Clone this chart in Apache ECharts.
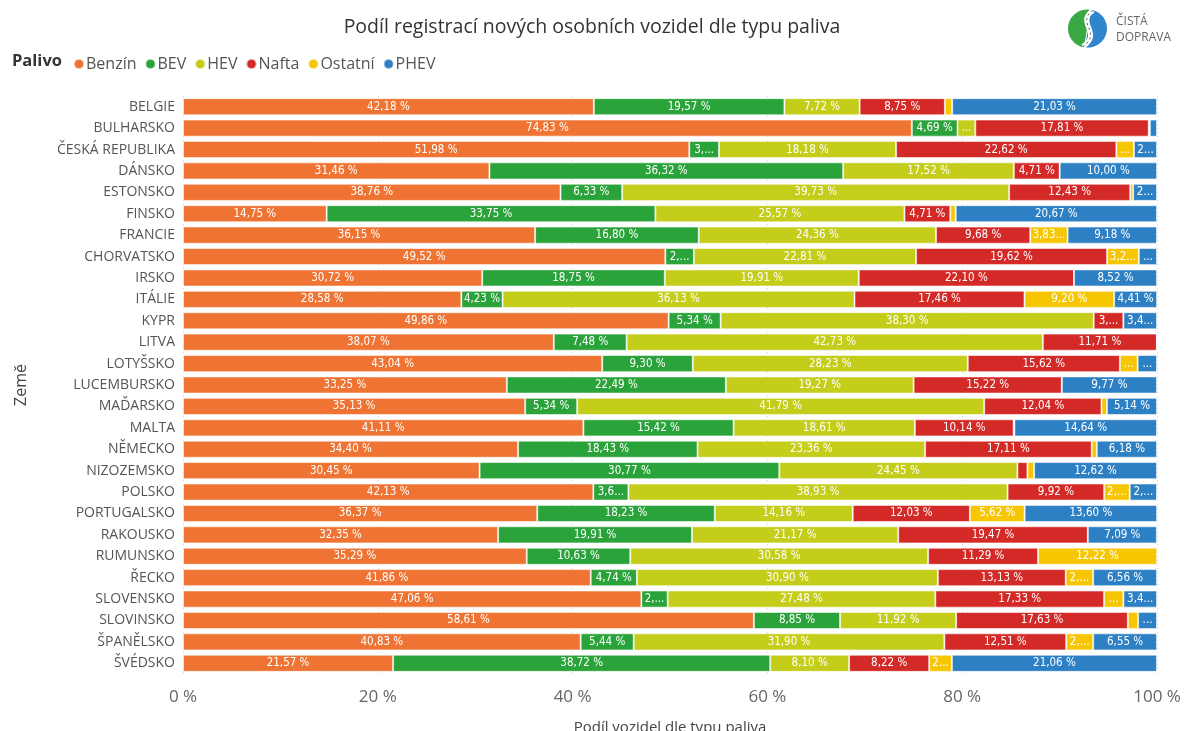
<!DOCTYPE html>
<html lang="cs">
<head>
<meta charset="utf-8">
<title>Podíl registrací nových osobních vozidel dle typu paliva</title>
<script src="https://cdn.jsdelivr.net/npm/echarts@6/dist/echarts.min.js"></script>
<style>
  html, body { margin: 0; padding: 0; background: #fff; }
  #chart { width: 1184px; height: 731px; }
</style>
</head>
<body>
<div id="chart"></div>
<script>
const countries = ['BELGIE', 'BULHARSKO', 'ČESKÁ REPUBLIKA', 'DÁNSKO', 'ESTONSKO', 'FINSKO', 'FRANCIE', 'CHORVATSKO', 'IRSKO', 'ITÁLIE', 'KYPR', 'LITVA', 'LOTYŠSKO', 'LUCEMBURSKO', 'MAĎARSKO', 'MALTA', 'NĚMECKO', 'NIZOZEMSKO', 'POLSKO', 'PORTUGALSKO', 'RAKOUSKO', 'RUMUNSKO', 'ŘECKO', 'SLOVENSKO', 'SLOVINSKO', 'ŠPANĚLSKO', 'ŠVÉDSKO'];

const benzin  = [42.18, 74.83, 51.98, 31.46, 38.76, 14.75, 36.15, 49.52, 30.72, 28.58, 49.86, 38.07, 43.04, 33.25, 35.13, 41.11, 34.40, 30.45, 42.13, 36.37, 32.35, 35.29, 41.86, 47.06, 58.61, 40.83, 21.57];
const bev     = [19.57, 4.69, 3.05, 36.32, 6.33, 33.75, 16.80, 2.93, 18.75, 4.23, 5.34, 7.48, 9.30, 22.49, 5.34, 15.42, 18.43, 30.77, 3.60, 18.23, 19.91, 10.63, 4.74, 2.70, 8.85, 5.44, 38.72];
const hev     = [7.72, 1.82, 18.18, 17.52, 39.73, 25.57, 24.36, 22.81, 19.91, 36.13, 38.30, 42.73, 28.23, 19.27, 41.79, 18.61, 23.36, 24.45, 38.93, 14.16, 21.17, 30.58, 30.90, 27.48, 11.92, 31.90, 8.10];
const nafta   = [8.75, 17.81, 22.62, 4.71, 12.43, 4.71, 9.68, 19.62, 22.10, 17.46, 3.05, 11.71, 15.62, 15.22, 12.04, 10.14, 17.11, 1.03, 9.92, 12.03, 19.47, 11.29, 13.13, 17.33, 17.63, 12.51, 8.22];
const ostatni = [0.75, 0.12, 1.80, 0, 0.30, 0.55, 3.83, 3.25, 0, 9.20, 0, 0, 1.82, 0, 0.56, 0.08, 0.52, 0.68, 2.62, 5.62, 0, 12.22, 2.81, 1.98, 1.05, 2.77, 2.33];
const phev    = [21.03, 0.73, 2.37, 10.00, 2.45, 20.67, 9.18, 1.87, 8.52, 4.41, 3.45, 0, 1.99, 9.77, 5.14, 14.64, 6.18, 12.62, 2.80, 13.60, 7.09, 0, 6.56, 3.45, 1.94, 6.55, 21.06];

const xTicks = [0, 20, 40, 60, 80, 100];

const seriesDefs = [
  { name: 'Benzín',  data: benzin,  color: '#ef7433' },
  { name: 'BEV',     data: bev,     color: '#2ba33b' },
  { name: 'HEV',     data: hev,     color: '#c4cd19' },
  { name: 'Nafta',   data: nafta,   color: '#d42a27' },
  { name: 'Ostatní', data: ostatni, color: '#f6c700' },
  { name: 'PHEV',    data: phev,    color: '#2e80c5' }
];

const font = '"Segoe UI", "Open Sans", "Noto Sans", sans-serif';
const labelFont = '"Liberation Sans Narrow", "DejaVu Sans Condensed", "Roboto", sans-serif';

function fmt(v){
  return v.toFixed(2).replace('.', ',') + ' %';
}

const chart = echarts.init(document.getElementById('chart'));

// label per segment: full text, truncated, just "..." or nothing, by segment width
function segLabel(w){
  if(w < 12) return { show: false };
  if(w < 21) return { show: true, formatter: '...' };
  return { show: true, width: w - 3 };
}

function buildSeries(pxPerPct){
  return seriesDefs.map(s => ({
    name: s.name,
    type: 'bar',
    stack: 'total',
    barCategoryGap: '20%',
    itemStyle: { color: s.color, borderColor: 'rgba(255,255,255,0.55)', borderWidth: 1 },
    label: {
      show: true,
      position: 'inside',
      color: '#fff',
      fontFamily: labelFont,
      fontSize: 11.5,
      overflow: 'truncate',
      ellipsis: '...',
      formatter: p => fmt(p.value)
    },
    data: s.data.map(v => ({ value: v, label: segLabel(v * pxPerPct) }))
  }));
}

chart.setOption({
  animation: false,
  title: {
    text: 'Podíl registrací nových osobních vozidel dle typu paliva',
    left: 'center',
    top: 12,
    textStyle: { fontFamily: font, fontSize: 19.5, fontWeight: 'normal', color: '#333' }
  },
  legend: {
    left: 68,
    top: 51,
    icon: 'circle',
    itemWidth: 10,
    itemHeight: 10,
    itemGap: 8,
    textStyle: { fontFamily: font, fontSize: 16, color: '#555', padding: [0, 0, 0, -3] },
    data: seriesDefs.map(s => s.name)
  },
  grid: { left: 183, right: 27, top: 96, bottom: 57, outerBoundsMode: 'none' },
  xAxis: {
    type: 'value',
    min: 0,
    max: 100,
    interval: 20,
    name: 'Podíl vozidel dle typu paliva',
    nameLocation: 'middle',
    nameGap: 46,
    nameTextStyle: { fontFamily: font, fontSize: 15, color: '#444' },
    axisLine: { show: false },
    axisTick: { show: false },
    axisLabel: {
      fontFamily: font,
      fontSize: 17,
      color: '#666',
      margin: 15,
      customValues: xTicks,
      formatter: v => v + ' %'
    },
    splitLine: { show: true, lineStyle: { color: '#d6d6d6', type: [1, 3] } }
  },
  yAxis: {
    type: 'category',
    inverse: true,
    data: countries,
    name: 'Země',
    nameLocation: 'middle',
    nameRotate: 90,
    nameGap: 154,
    nameTextStyle: { fontFamily: font, fontSize: 16, color: '#444' },
    axisLine: { show: false },
    axisTick: { show: false },
    axisLabel: { fontFamily: font, fontSize: 14, color: '#555', margin: 8 }
  },
  graphic: [
    {
      type: 'text',
      left: 12,
      top: 53,
      style: { text: 'Palivo', font: 'bold 16.5px ' + font, fill: '#333' }
    },
    {
      type: 'group',
      left: 1068,
      top: 8,
      children: [
        { type: 'sector', shape: { cx: 20, cy: 22, r: 19, startAngle: Math.PI * 0.55, endAngle: Math.PI * 1.55 }, style: { fill: '#3aa845' } },
        { type: 'sector', shape: { cx: 21, cy: 22, r: 19, startAngle: -Math.PI * 0.45, endAngle: Math.PI * 0.55 }, style: { fill: '#2f86cc' } },
        { type: 'bezierCurve', shape: { x1: 26, y1: 4, cpx1: 8, cpy1: 16, cpx2: 36, cpy2: 26, x2: 16, y2: 40 }, style: { stroke: '#fff', lineWidth: 5, fill: 'none' } },
        { type: 'bezierCurve', shape: { x1: 26, y1: 4, cpx1: 8, cpy1: 16, cpx2: 36, cpy2: 26, x2: 16, y2: 40 }, style: { stroke: '#555', lineWidth: 1, lineDash: [2, 3], fill: 'none' } },
        { type: 'text', x: 49, y: 9, style: { text: 'ČISTÁ', font: '12px ' + font, fill: '#666' } },
        { type: 'text', x: 49, y: 25, style: { text: 'DOPRAVA', font: '12px ' + font, fill: '#666' } }
      ]
    }
  ],
  series: buildSeries(9.74)
});

// re-measure one percent through the axis and fit the labels to the segments
const pxPerPct = chart.convertToPixel({ xAxisIndex: 0 }, 1) - chart.convertToPixel({ xAxisIndex: 0 }, 0);
chart.setOption({ series: buildSeries(pxPerPct) });
</script>
</body>
</html>
